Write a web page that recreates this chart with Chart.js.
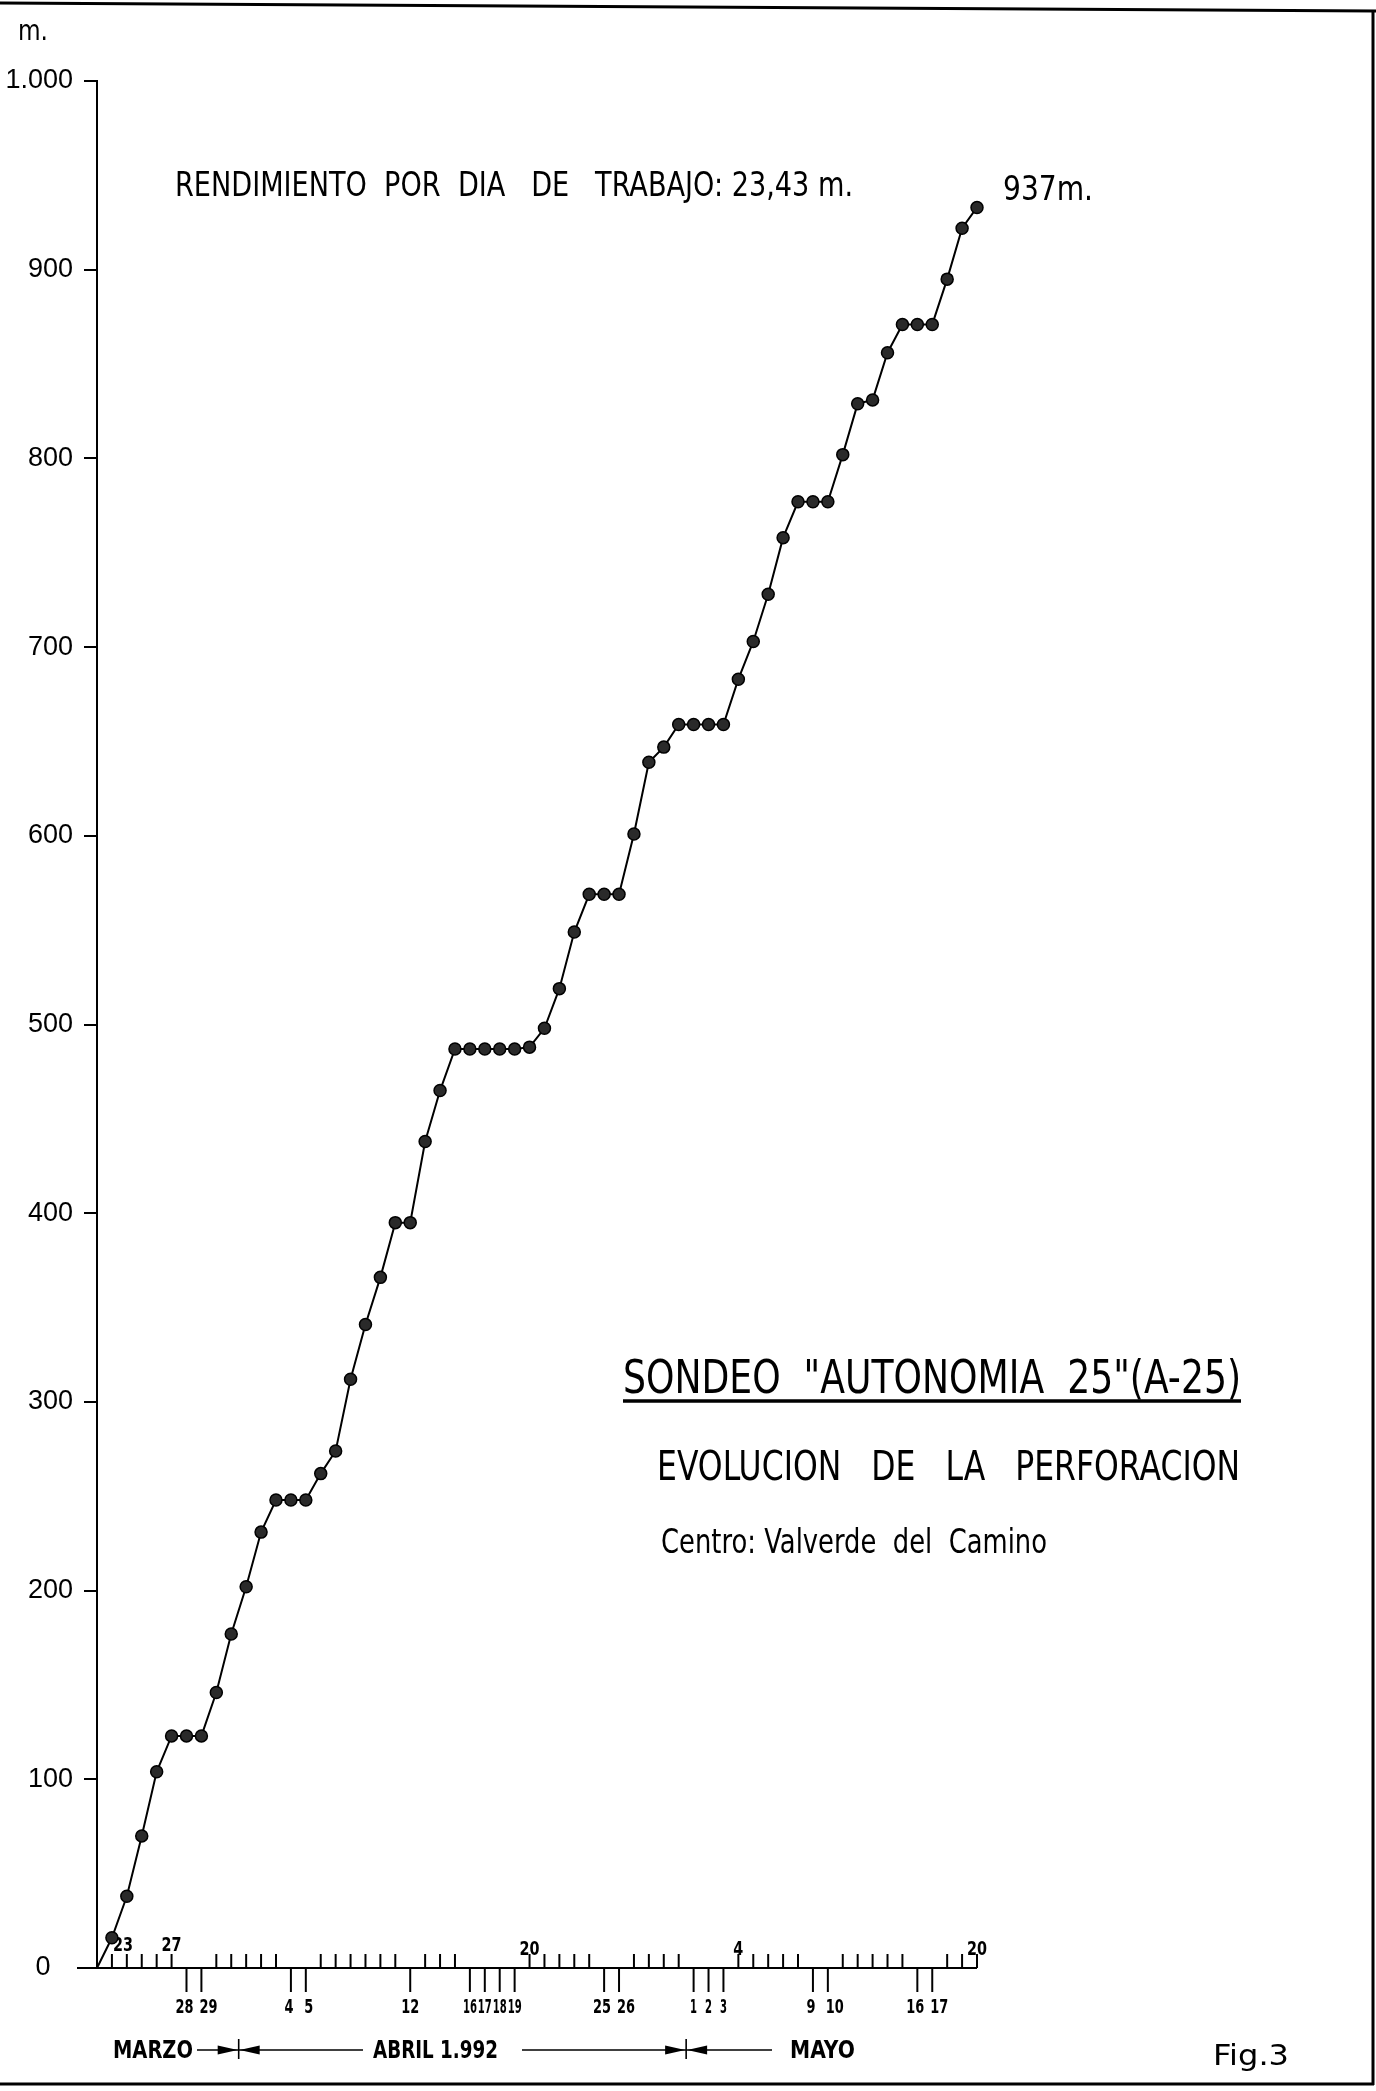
<!DOCTYPE html>
<html>
<head>
<meta charset="utf-8">
<script src="https://cdn.jsdelivr.net/npm/chart.js@4.4.1/dist/chart.umd.min.js"></script>
<style>
  body { margin: 0; background: #fff; }
  canvas { display: block; }
</style>
</head>
<body>
<canvas id="grafico" width="1376" height="2091"></canvas>
<script>
// dias del sondeo, desde el 22 de marzo hasta el 20 de mayo de 1992
const fechas = ['22','23','24','25','26','27','28','29','30','31',
  '1','2','3','4','5','6','7','8','9','10','11','12','13','14','15',
  '16','17','18','19','20','21','22','23','24','25','26','27','28','29','30',
  '1','2','3','4','5','6','7','8','9','10','11','12','13','14','15',
  '16','17','18','19','20'];

// profundidad acumulada (m) al final de cada dia
const profundidad = [0,16,38,70,104,123,123,123,146,177,
  202,231,248,248,248,262,274,312,341,366,
  395,395,438,465,487,487,487,487,487,488,
  498,519,549,569,569,569,601,639,647,659,
  659,659,659,683,703,728,758,777,777,777,
  802,829,831,856,871,871,871,895,922,933];

// dias sin trabajo (indices en fechas) -> marca hacia abajo con rotulo
const diasSinTrabajo = [6,7,13,14,21,25,26,27,28,34,35,40,41,42,48,49,55,56];
// dias de trabajo rotulados encima del eje
const rotulosArriba = [1,5,29,43,59];
const meses = ['MARZO','ABRIL 1.992','MAYO'];

const FUENTE = '"DejaVu Sans", "Liberation Sans", sans-serif';

// escribe un texto ajustado a un ancho dado
function texto(ctx, str, x, y, size, ancho, peso) {
  ctx.save();
  ctx.font = (peso || 'normal') + ' ' + size + 'px ' + FUENTE;
  ctx.textAlign = 'left';
  ctx.textBaseline = 'alphabetic';
  const w = ctx.measureText(str).width;
  ctx.translate(x, y);
  if (ancho) ctx.scale(ancho / w, 1);
  ctx.fillText(str, 0, 0);
  ctx.restore();
}

// rotulo pequeño del eje de fechas, centrado en x
function dia(ctx, str, x, y, porCifra) {
  const ancho = str.length * porCifra;
  texto(ctx, str, x - ancho / 2, y, 19, ancho, 'bold');
}

function linea(ctx, x1, y1, x2, y2) {
  ctx.beginPath();
  ctx.moveTo(x1, y1);
  ctx.lineTo(x2, y2);
  ctx.stroke();
}

function flecha(ctx, xPunta, y, dir) {
  ctx.beginPath();
  ctx.moveTo(xPunta, y);
  ctx.lineTo(xPunta - dir * 20, y - 4.5);
  ctx.lineTo(xPunta - dir * 20, y + 4.5);
  ctx.closePath();
  ctx.fill();
}

const libre = i => diasSinTrabajo.includes(i);

const dibujo = {
  id: 'dibujo',
  beforeDraw(chart) {
    const ctx = chart.ctx;
    ctx.save();
    ctx.fillStyle = '#fff';
    ctx.fillRect(0, 0, chart.width, chart.height);
    ctx.restore();
  },
  beforeDatasetsDraw(chart) {
    const ctx = chart.ctx;
    const xs = chart.scales.x, ys = chart.scales.y;
    const y0 = ys.getPixelForValue(0);
    ctx.save();
    ctx.strokeStyle = '#000';
    ctx.fillStyle = '#000';

    // marco de la lamina
    ctx.lineWidth = 3;
    linea(ctx, 0, 3, 1376, 11);
    linea(ctx, 1373, 10, 1373, 2085);
    linea(ctx, 0, 2084, 1374, 2084);
    ctx.lineWidth = 2;

    // eje de fechas
    linea(ctx, 77, y0, xs.getPixelForValue(fechas.length - 1), y0);
    for (let i = 1; i < fechas.length; i++) {
      const x = xs.getPixelForValue(i);
      if (libre(i)) {
        linea(ctx, x, y0, x, y0 + 24);
        // en las rachas largas de dias libres el rotulo va mas apretado
        const apretado = (libre(i - 1) && libre(i + 1)) || (libre(i + 1) && libre(i + 2)) || (libre(i - 1) && libre(i - 2));
        // en las parejas (sabado-domingo) los rotulos se separan un poco
        let dx = 0;
        if (libre(i - 1) && !libre(i - 2) && !libre(i + 1)) dx = (fechas[i].length + fechas[i - 1].length > 2) ? 7 : 3;
        if (libre(i + 1) && !libre(i - 1) && !libre(i + 2)) dx = -2;
        dia(ctx, fechas[i], x + dx, y0 + 45, apretado ? 7 : 9);
      } else {
        linea(ctx, x, y0, x, y0 - 14);
      }
    }
    rotulosArriba.forEach(i => {
      const x = xs.getPixelForValue(i) + (i === 1 ? 11 : 0);
      dia(ctx, fechas[i], x, y0 - 13 - (i > 20 ? 0 : 4), 10);
    });

    // meses
    const yM = 2050;
    const xa = xs.getPixelForValue(9.5), xb = xs.getPixelForValue(39.5);
    texto(ctx, meses[0], 113, 2058, 24, 80, 'bold');
    texto(ctx, meses[1], 373, 2058, 24, 125, 'bold');
    texto(ctx, meses[2], 790, 2058, 24, 65, 'bold');
    ctx.lineWidth = 1.6;
    linea(ctx, 197, yM, xa, yM);
    flecha(ctx, xa - 1, yM, 1);
    linea(ctx, xa, yM - 11, xa, yM + 9);
    flecha(ctx, xa + 1, yM, -1);
    linea(ctx, xa, yM, 363, yM);
    linea(ctx, 522, yM, xb, yM);
    flecha(ctx, xb - 1, yM, 1);
    linea(ctx, xb, yM - 11, xb, yM + 9);
    flecha(ctx, xb + 1, yM, -1);
    linea(ctx, xb, yM, 772, yM);

    // rotulos
    texto(ctx, 'm.', 18, 40, 28, 30);
    texto(ctx, 'RENDIMIENTO  POR  DIA   DE   TRABAJO: 23,43 m.', 175, 196, 34, 678);
    texto(ctx, '937m.', 1003, 200, 34, 90);
    texto(ctx, 'SONDEO  "AUTONOMIA  25"(A-25)', 623, 1393, 46, 618);
    ctx.lineWidth = 3.5;
    linea(ctx, 623, 1401, 1241, 1401);
    texto(ctx, 'EVOLUCION   DE   LA   PERFORACION', 657, 1480, 40, 583);
    texto(ctx, 'Centro: Valverde  del  Camino', 661, 1553, 33, 386);
    texto(ctx, 'Fig.3', 1213, 2065, 29, 76);
    ctx.restore();
  }
};

const puntos = profundidad.map((v, i) => ({ x: i, y: v }));

new Chart(document.getElementById('grafico').getContext('2d'), {
  type: 'line',
  data: {
    datasets: [{
      data: puntos,
      clip: false,
      borderColor: '#000',
      borderWidth: 2,
      tension: 0,
      pointRadius: puntos.map((p, i) => (i === 0 ? 0 : 6)),
      pointBackgroundColor: '#2a2a2a',
      pointBorderColor: '#000',
      pointBorderWidth: 1.5
    }]
  },
  options: {
    responsive: false,
    animation: false,
    devicePixelRatio: 1,
    layout: { padding: { left: 0, top: 81, right: 399, bottom: 123 } },
    plugins: { legend: { display: false }, tooltip: { enabled: false } },
    scales: {
      x: { type: 'linear', display: false, min: 0, max: fechas.length - 1 },
      y: {
        min: 0,
        max: 1000,
        afterFit: s => { s.width = 97; },
        ticks: {
          stepSize: 100,
          color: '#000',
          padding: 11,
          font: { size: 27, family: '"Liberation Sans", sans-serif' },
          callback: v => (v === 1000 ? '1.000' : v === 0 ? '0   ' : String(v))
        },
        grid: { drawOnChartArea: false, drawTicks: true, tickLength: 13, color: '#000', lineWidth: 2 },
        border: { display: true, color: '#000', width: 2 }
      }
    }
  },
  plugins: [dibujo]
});
</script>
</body>
</html>
